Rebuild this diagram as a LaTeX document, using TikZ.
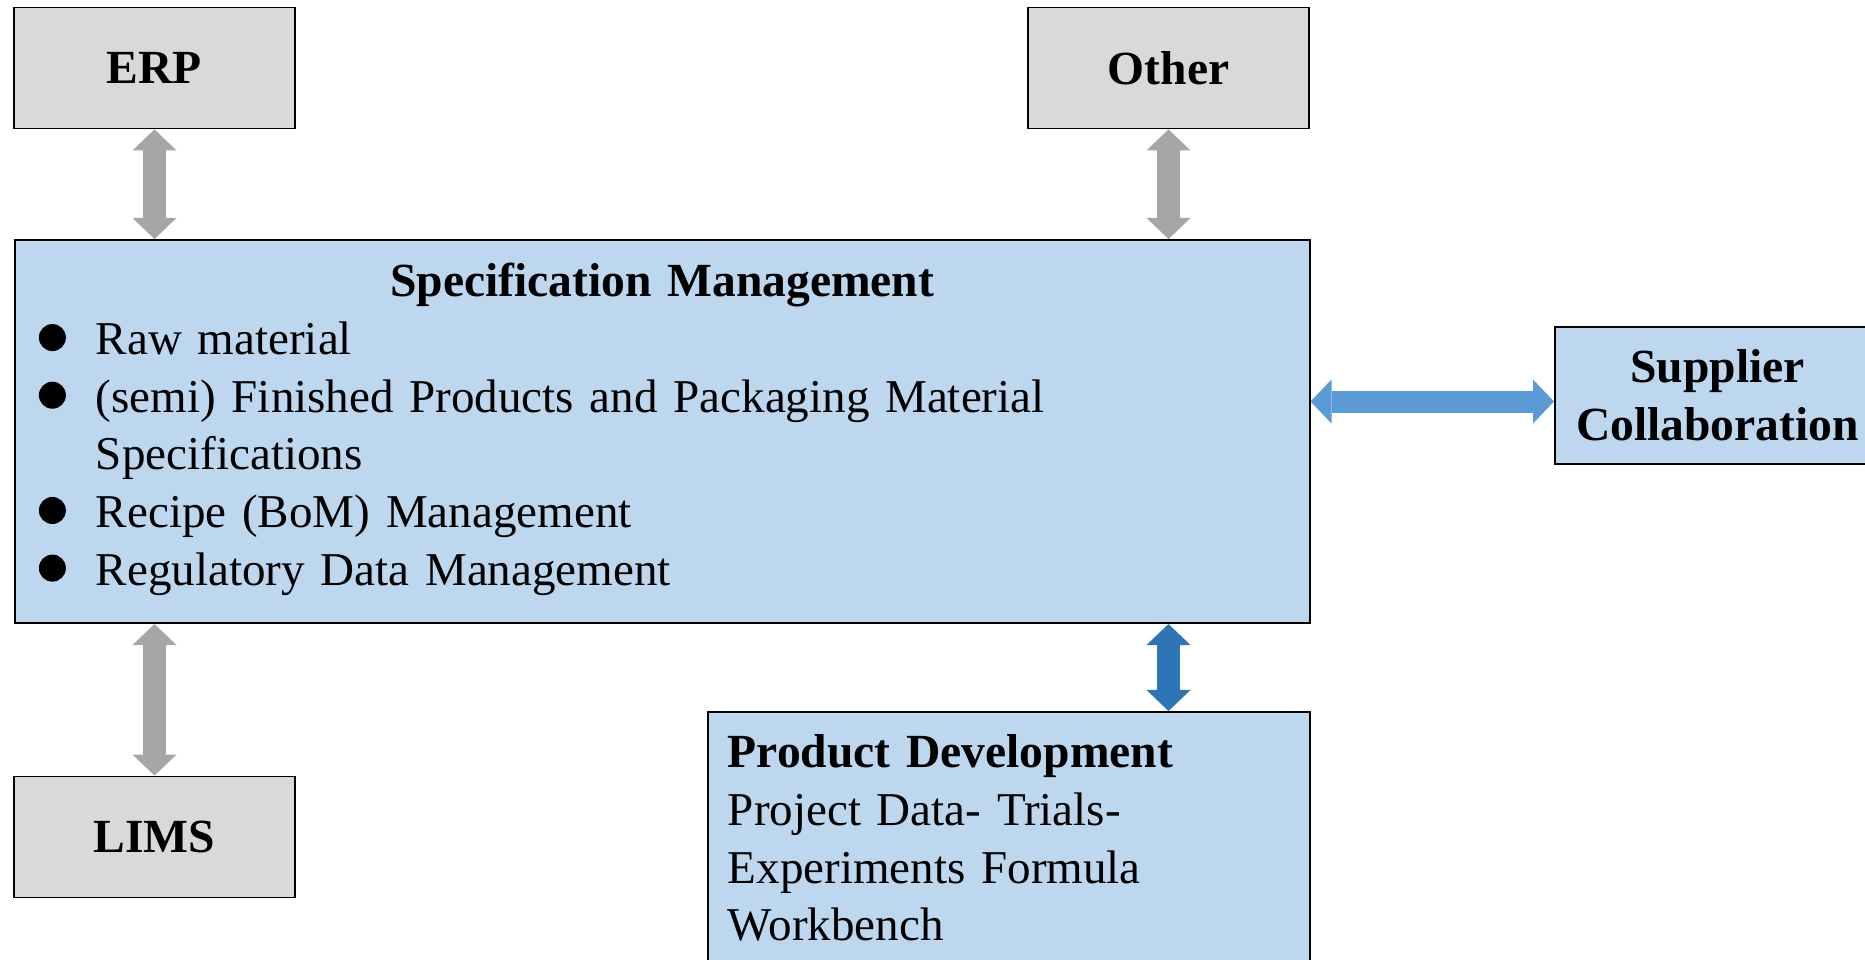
\documentclass[tikz,border=0pt]{standalone}
\usepackage{fontspec}
\setmainfont{Liberation Serif}
\usetikzlibrary{arrows.meta}
\definecolor{boxgray}{HTML}{D9D9D9}
\definecolor{linkgray}{HTML}{A6A6A6}
\definecolor{boxblue}{HTML}{BDD7EE}
\definecolor{linkblue}{HTML}{5B9BD5}
\definecolor{linkdark}{HTML}{2E75B6}
\newcommand{\diagfont}{\fontsize{13.38pt}{16.39pt}\selectfont}
\newcommand{\diagbold}{\fontsize{13.52pt}{16.39pt}\selectfont\bfseries}
\newcommand{\specdot}{\tikz[baseline=-0.17cm]\fill[black] (0,0) circle (0.135cm);}
\newcommand{\specitem}{\makebox[0.57cm][l]{\specdot}}

\begin{document}
\begin{tikzpicture}[x=0.01cm,y=-0.01cm,
    box/.style={draw=black,line width=0.5pt,font=\diagfont},
    sysbox/.style={box,fill=boxgray,minimum width=2.81cm,minimum height=1.21cm,inner sep=0pt,font=\diagbold},
    bluebox/.style={box,fill=boxblue},
    link/.style={line width=0.22cm,>={Triangle[width=0.44cm,length=0.21cm,line width=0pt]},<->}]
    \useasboundingbox (0,0) rectangle (1865,960);
    % outer systems
    \node[sysbox] (erp) at (154.5,68) {ERP};
    \node[sysbox] (other) at (1168.5,68) {Other};
    \node[sysbox] (lims) at (154.5,837) {LIMS};
    % central block
    \node[bluebox,anchor=north west,text width=12.46cm,align=left,inner xsep=0.24cm,inner ysep=0.167cm] (spec) at (14,239)
        {\strut\hfill{\diagbold Specification Management}\hfill\null\\
         \specitem Raw material\\
         \specitem (semi) Finished Products and Packaging Material\\
         \hspace*{0.57cm}Specifications\\
         \specitem Recipe (BoM) Management\\
         \specitem Regulatory Data Management\rule[-0.213cm]{0pt}{0pt}};
    \node[bluebox,font=\diagbold,align=center,minimum width=3.25cm,minimum height=1.37cm,inner sep=0pt] (supplier) at (1717.5,395.5)
        {Supplier\\Collaboration};
    \node[bluebox,anchor=north west,text width=5.62cm,align=left,inner xsep=0.2cm,inner ysep=0.157cm] (pd) at (707,711)
        {\strut{\diagbold Product Development}\\
         Project Data- Trials-\\
         Experiments Formula\\
         Workbench\rule[-0.6cm]{0pt}{0pt}};
    % links
    \coordinate (suplink) at ([yshift=-0.06cm]supplier.west);
    \draw[link,linkgray] (erp.south) -- (erp.south |- spec.north);
    \draw[link,linkgray] (other.south) -- (other.south |- spec.north);
    \draw[link,linkgray] (spec.south -| lims.north) -- (lims.north);
    \draw[link,linkdark] (spec.south -| other.south) -- (pd.north -| other.south);
    \draw[link,linkblue] (spec.east |- suplink) -- (suplink);
\end{tikzpicture}
\end{document}
